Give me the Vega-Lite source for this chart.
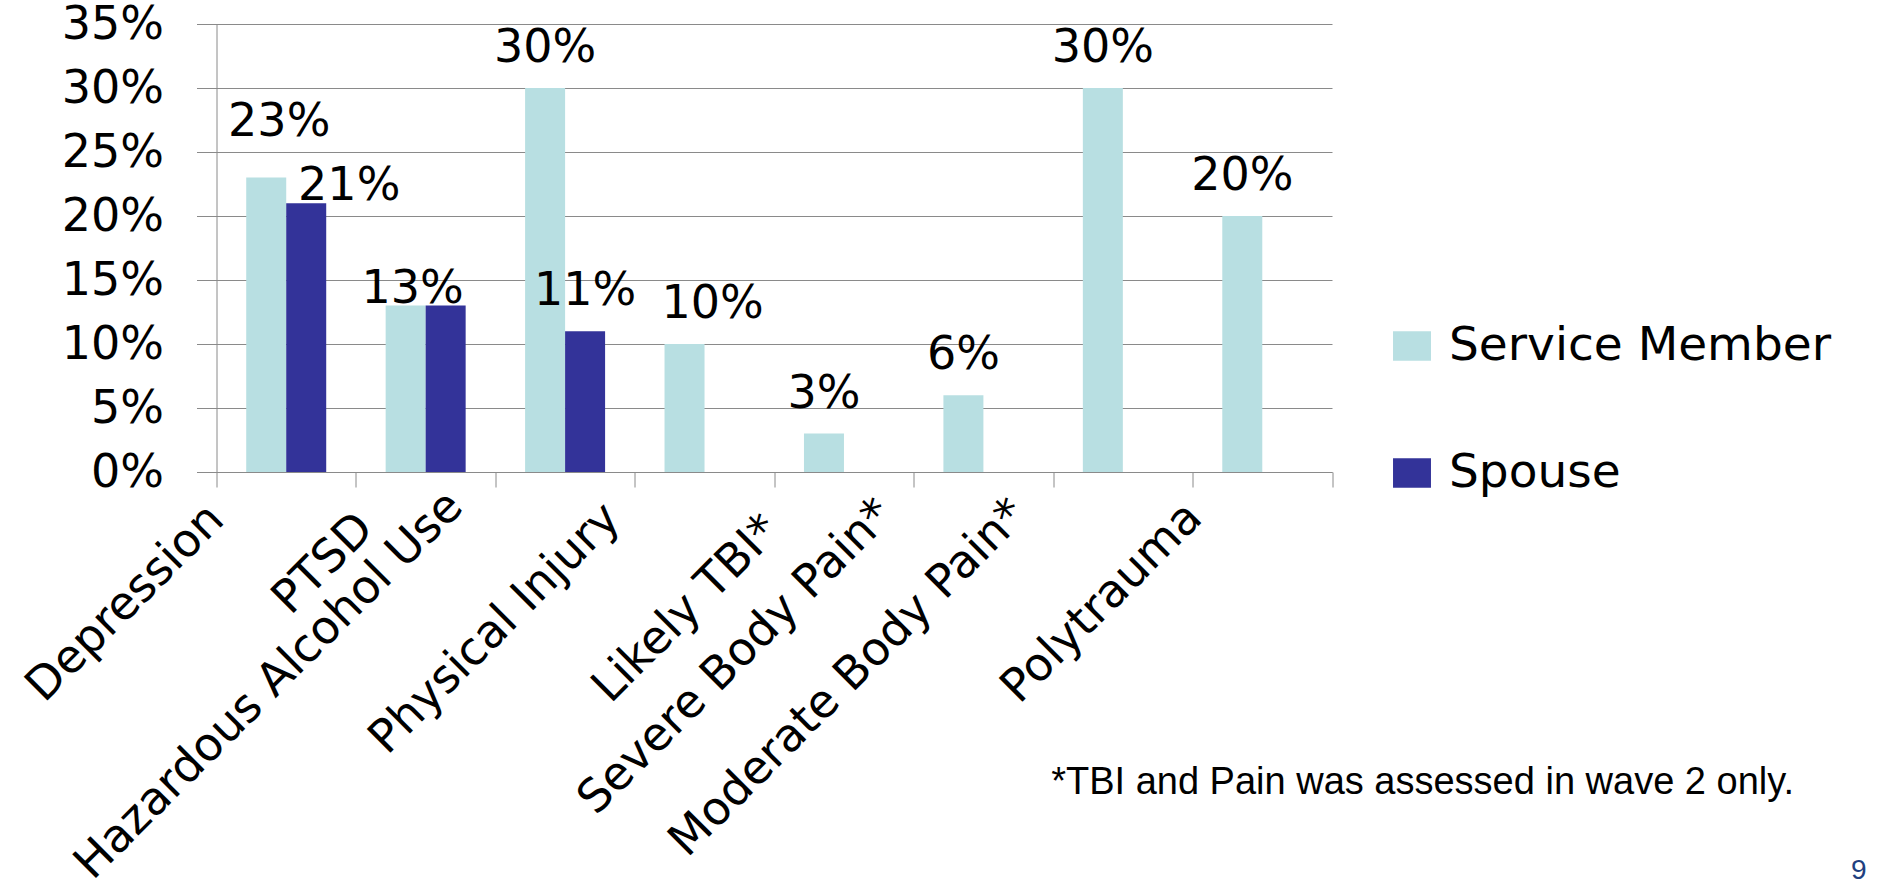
{
  "$schema": "https://vega.github.io/schema/vega-lite/v6.json",
  "width": 1115.5,
  "height": 448,
  "autosize": {"type": "none"},
  "padding": {"left": 216.5, "top": 24, "right": 556, "bottom": 407},
  "background": "white",
  "data": {
    "values": [
      {"category": "Depression", "series": "Service Member", "value": 0.23},
      {"category": "Depression", "series": "Spouse", "value": 0.21},
      {"category": "PTSD", "series": "Service Member", "value": 0.13},
      {"category": "PTSD", "series": "Spouse", "value": 0.13},
      {"category": "Hazardous Alcohol Use", "series": "Service Member", "value": 0.30},
      {"category": "Hazardous Alcohol Use", "series": "Spouse", "value": 0.11},
      {"category": "Physical Injury", "series": "Service Member", "value": 0.10},
      {"category": "Likely TBI*", "series": "Service Member", "value": 0.03},
      {"category": "Severe Body Pain*", "series": "Service Member", "value": 0.06},
      {"category": "Moderate Body Pain*", "series": "Service Member", "value": 0.30},
      {"category": "Polytrauma", "series": "Service Member", "value": 0.20}
    ]
  },
  "encoding": {
    "x": {
      "field": "category", "type": "nominal",
      "sort": ["Depression", "PTSD", "Hazardous Alcohol Use", "Physical Injury", "Likely TBI*", "Severe Body Pain*", "Moderate Body Pain*", "Polytrauma"],
      "scale": {"paddingInner": 0, "paddingOuter": 0},
      "axis": {
        "title": "*TBI and Pain was assessed in wave 2 only.",
        "titleX": 1577, "titleY": 321, "titleAlign": "right", "titleAnchor": null, "titleBaseline": "alphabetic",
        "titleFont": "Liberation Sans", "titleFontSize": 38, "titleFontWeight": "normal", "titleColor": "black",
        "labelAngle": -45, "labelAlign": "right", "labelBaseline": "top",
        "labelOffset": {"expr": "datum.value == 'Depression' ? -86 : datum.value == 'PTSD' ? -76 : datum.value == 'Hazardous Alcohol Use' ? -126 : datum.value == 'Physical Injury' ? -108 : datum.value == 'Likely TBI*' ? -88 : datum.value == 'Severe Body Pain*' ? -114 : datum.value == 'Moderate Body Pain*' ? -120 : -84"},
        "labelPadding": {"expr": "datum.value == 'Depression' ? 9 : datum.value == 'PTSD' ? 18 : datum.value == 'Hazardous Alcohol Use' ? -4 : datum.value == 'Physical Injury' ? 8 : datum.value == 'Likely TBI*' ? 20 : datum.value == 'Severe Body Pain*' ? 4 : datum.value == 'Moderate Body Pain*' ? 4 : 7"},
        "labelFont": "DejaVu Sans", "labelFontSize": 46, "labelColor": "black",
        "labelLimit": 2000, "labelOverlap": false, "labelBound": false,
        "tickBand": "extent", "tickSize": 15, "tickColor": "#8a8a8a", "tickWidth": 1,
        "domainColor": "#8a8a8a", "domainWidth": 1, "grid": false
      }
    },
    "y": {
      "field": "value", "type": "quantitative",
      "scale": {"domain": [0, 0.35], "nice": false, "zero": true},
      "axis": {
        "values": [0, 0.05, 0.1, 0.15, 0.2, 0.25, 0.3, 0.35],
        "format": ".0%",
        "title": "9",
        "titleX": 1649.5, "titleY": 854, "titleAngle": 0, "titleAlign": "right", "titleAnchor": null, "titleBaseline": "alphabetic",
        "titleFont": "Liberation Sans", "titleFontSize": 28, "titleFontWeight": "normal", "titleColor": "#213f7f",
        "labelFont": "DejaVu Sans", "labelFontSize": 46, "labelColor": "black",
        "labelPadding": 33, "tickSize": 20, "tickColor": "#8a8a8a",
        "domainColor": "#8a8a8a", "gridColor": "#8a8a8a", "grid": true, "gridWidth": 1
      }
    }
  },
  "layer": [
    {
      "mark": {"type": "bar"},
      "encoding": {
        "xOffset": {"field": "series", "type": "nominal", "sort": ["Service Member", "Spouse"], "scale": {"paddingInner": 0, "paddingOuter": 0.743}},
        "color": {
          "field": "series", "type": "nominal",
          "scale": {"domain": ["Service Member", "Spouse"], "range": ["#b8dfe2", "#333399"]},
          "legend": {"title": null}
        }
      }
    },
    {
      "transform": [{"filter": "datum.category != 'Depression' && datum.category != 'PTSD' && datum.category != 'Physical Injury'"}],
      "mark": {"type": "text", "font": "DejaVu Sans", "fontSize": 46, "baseline": "alphabetic", "dy": -26, "color": "black"},
      "encoding": {
        "xOffset": {"field": "series", "type": "nominal", "sort": ["Service Member", "Spouse"]},
        "text": {"field": "value", "type": "quantitative", "format": ".0%"}
      }
    },
    {
      "transform": [{"filter": "datum.category == 'Physical Injury'"}],
      "mark": {"type": "text", "font": "DejaVu Sans", "fontSize": 46, "baseline": "alphabetic", "dx": 28, "dy": -26, "color": "black"},
      "encoding": {
        "xOffset": {"field": "series", "type": "nominal", "sort": ["Service Member", "Spouse"]},
        "text": {"field": "value", "type": "quantitative", "format": ".0%"}
      }
    },
    {
      "transform": [{"filter": "datum.category == 'Depression' && datum.series == 'Service Member'"}],
      "mark": {"type": "text", "font": "DejaVu Sans", "fontSize": 46, "baseline": "alphabetic", "dx": 13, "dy": -42, "color": "black"},
      "encoding": {
        "xOffset": {"field": "series", "type": "nominal", "sort": ["Service Member", "Spouse"]},
        "text": {"field": "value", "type": "quantitative", "format": ".0%"}
      }
    },
    {
      "transform": [{"filter": "datum.category == 'Depression' && datum.series == 'Spouse'"}],
      "mark": {"type": "text", "font": "DejaVu Sans", "fontSize": 46, "baseline": "alphabetic", "dx": 43, "dy": -3, "color": "black"},
      "encoding": {
        "xOffset": {"field": "series", "type": "nominal", "sort": ["Service Member", "Spouse"]},
        "text": {"field": "value", "type": "quantitative", "format": ".0%"}
      }
    },
    {
      "transform": [{"filter": "datum.category == 'PTSD' && datum.series == 'Spouse'"}],
      "mark": {"type": "text", "font": "DejaVu Sans", "fontSize": 46, "baseline": "alphabetic", "dx": -13, "dy": -3, "color": "black"},
      "encoding": {
        "text": {"field": "value", "type": "quantitative", "format": ".0%"}
      }
    }
  ],
  "config": {
    "view": {"stroke": null},
    "legend": {
      "orient": "none", "legendX": 1172, "legendY": 298.5, "padding": 0,
      "labelFont": "DejaVu Sans", "labelFontSize": 47, "labelColor": "black", "labelLimit": 2000,
      "symbolType": "M-1.15,-0.9H1.15V0.9H-1.15Z", "symbolSize": 1089,
      "symbolStrokeWidth": 0, "symbolOpacity": 1,
      "labelOffset": 13.5, "rowPadding": 79
    }
  }
}
